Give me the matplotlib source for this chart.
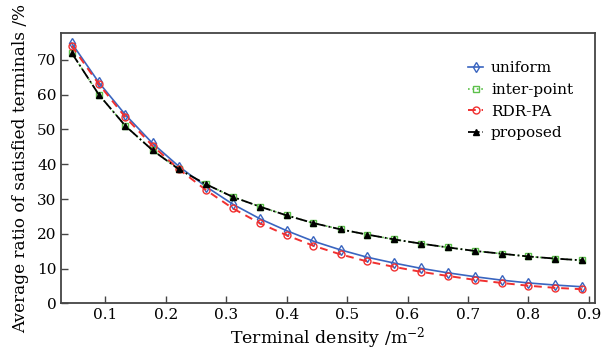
import numpy as np
import matplotlib.pyplot as plt

plt.rcParams['font.family'] = ['DejaVu Serif']
plt.rcParams['mathtext.fontset'] = 'dejavuserif'

# terminal density values
density = [0.044, 0.089, 0.133, 0.178, 0.222, 0.267, 0.311, 0.356, 0.400, 0.444,
           0.489, 0.533, 0.578, 0.622, 0.667, 0.711, 0.756, 0.800, 0.844, 0.889]

uniform = [74.8, 63.5, 54.2, 46.0, 39.3, 33.5, 28.5, 24.3, 20.9, 17.9,
           15.4, 13.3, 11.6, 10.1, 8.8, 7.7, 6.7, 5.9, 5.3, 4.8]
inter_point = [72.0, 60.0, 51.0, 44.0, 38.5, 34.2, 30.6, 27.8, 25.3, 23.1,
               21.3, 19.8, 18.4, 17.2, 16.1, 15.1, 14.3, 13.5, 12.9, 12.4]
rdr_pa = [74.0, 63.0, 53.5, 45.3, 38.5, 32.5, 27.3, 23.0, 19.6, 16.6,
          14.1, 12.1, 10.5, 9.1, 7.9, 6.8, 5.9, 5.1, 4.5, 4.1]
proposed = [72.0, 60.0, 51.0, 44.0, 38.5, 34.2, 30.6, 27.8, 25.3, 23.1,
            21.3, 19.8, 18.4, 17.2, 16.1, 15.1, 14.3, 13.5, 12.9, 12.4]

fig = plt.figure(figsize=(6.09, 3.54), dpi=100)
ax = fig.add_axes([0.1008, 0.1427, 0.876, 0.765])

ax.plot(density, uniform, color='#3a65c0', lw=1.2, marker='d', ms=5,
        mfc='none', mew=1.0, label='uniform')
ax.plot(density, inter_point, color='#5cc04a', lw=1.2, ls=':', marker='s', ms=4.5,
        mfc='none', mew=1.0, label='inter-point')
ax.plot(density, rdr_pa, color='#f03030', lw=1.4, ls=(0, (4, 3)), marker='o', ms=5,
        mfc='none', mew=1.0, label='RDR-PA')
ax.plot(density, proposed, color='black', lw=1.3, ls='-.', marker='^', ms=5,
        label='proposed')

ax.set_xlim(0.027, 0.91)
ax.set_ylim(0, 77.8)
ax.set_xticks([0.1, 0.2, 0.3, 0.4, 0.5, 0.6, 0.7, 0.8, 0.9])
ax.set_yticks([0, 10, 20, 30, 40, 50, 60, 70])
ax.tick_params(direction='in', labelsize=11, length=5, width=1, color='#444444')
for s in ax.spines.values():
    s.set_color('#444444')
    s.set_linewidth(1.3)

ax.set_xlabel('Terminal density /m$^{-2}$', fontsize=12.5, labelpad=2)
ax.set_ylabel('Average ratio of satisfied terminals /%', fontsize=12.2, labelpad=6)

ax.legend(loc='upper right', bbox_to_anchor=(0.985, 0.945), frameon=False,
          fontsize=11, handlelength=1.0, handletextpad=0.5, labelspacing=0.5)

fig.savefig('out.png', dpi=100)
